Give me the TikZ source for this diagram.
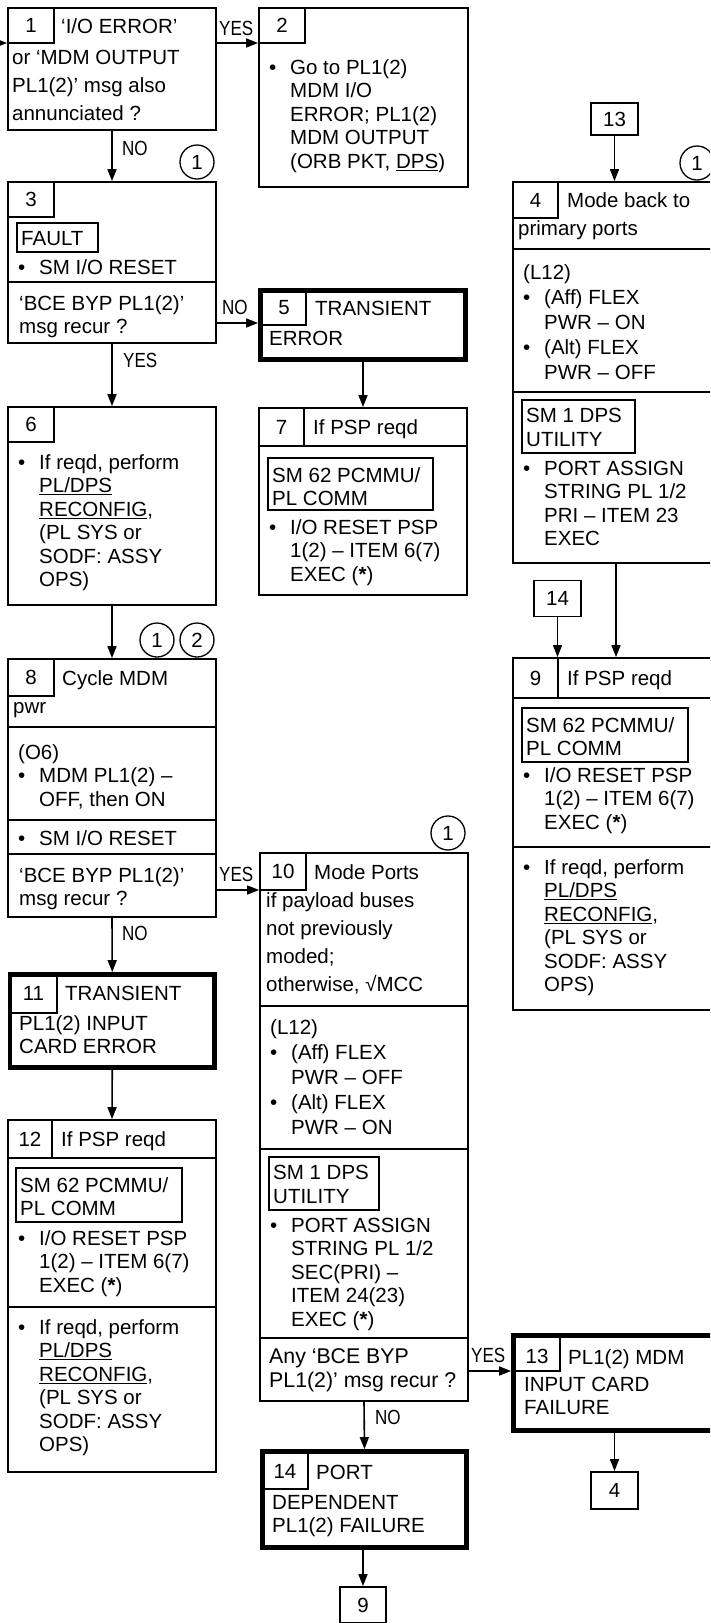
\documentclass[tikz,border=0pt]{standalone}
\usepackage{fontspec}
\setmainfont{Liberation Sans}
\usetikzlibrary{arrows.meta,fit}
\newcommand\fsz{\fontsize{20.5pt}{23.5pt}\selectfont}
\newcommand\fhd{\fontsize{20.5pt}{28pt}\selectfont}
\newcommand\flt{\fontsize{20.5pt}{25pt}\selectfont}
\newcommand\stx{\rule{0pt}{16pt}}
\newcommand\bulx{\makebox[21pt][l]{•}}
\newcommand\indx{\hspace*{21pt}}
\newcommand\cnd[1]{\scalebox{0.83}[1]{#1}}
\begin{document}
\begin{tikzpicture}[x=1pt,y=-1pt,
 bx/.style={draw, line width=1.8pt, inner sep=0pt},
 tk/.style={draw, line width=4.8pt, inner sep=0pt},
 fr/.style={draw, line width=1.6pt, inner sep=0pt},
 ln/.style={line width=1.8pt},
 arr/.style={line width=1.6pt, -{Triangle[length=12pt,width=9pt]}},
 tx/.style={font=\fsz, inner sep=0pt, anchor=north west, align=left},
 hd/.style={font=\fhd, inner sep=0pt, anchor=north west, align=left},
 tl/.style={font=\flt, inner sep=0pt, anchor=north west, align=left},
 num/.style={font=\fsz, inner sep=0pt, anchor=center},
 lab/.style={font=\fsz, inner sep=0pt, anchor=base west},
 circ/.style={draw, circle, line width=1.3pt, minimum size=34pt, inner sep=0pt, font=\fsz},
 rf/.style={draw, line width=1.8pt, inner sep=0pt, minimum width=47pt, font=\fsz}
]
\fill[white] (0,0) rectangle (710,1623);
\useasboundingbox (0,0) rectangle (710,1623);
\clip (0,0) rectangle (710,1623);

% ---------- Box 1
\node[bx, fit={(8,8) (216,130)}] (b1) {};
\draw[ln] (54,8) -- (54,43) -- (8,43);
\node[num] (n1) at (31,25.5) {1};
\node[lab] (t1a) at (61,33) {‘I/O ERROR’};
\node[hd] (t1b) at (12,48) {\stx or ‘MDM OUTPUT\\PL1(2)’ msg also\\annunciated ?};
\coordinate (in1) at (-20,43);

% ---------- Box 2
\node[bx, fit={(259,8) (468,187)}] (b2) {};
\draw[ln] (305,8) -- (305,43) -- (259,43);
\node[num] (n2) at (282,25.5) {2};
\node[tx] (t2) at (269,58) {\stx\bulx Go to PL1(2)\\\indx MDM I/O\\\indx ERROR; PL1(2)\\\indx MDM OUTPUT\\\indx (ORB PKT, \underline{DPS})};
\coordinate (y12) at (0,43);
\node[lab] (l12) at (219,35) {\cnd{YES}};

\node[circ] (c3) at (197,162) {1};
\node[lab] (l13) at (122,155) {\cnd{NO}};

% ---------- Box 3
\node[bx, fit={(8,182) (216,343)}] (b3) {};
\draw[ln] (54,182) -- (54,217) -- (8,217);
\node[num] (n3) at (31,199.5) {3};
\node[fr, fit={(17,223) (98,252)}] (f3) {};
\node[lab] (t3a) at (21,245) {FAULT};
\node[tx] (t3b) at (18,258) {\stx\bulx SM I/O RESET};
\draw[ln] (8,282) -- (216,282);
\node[tx] (t3c) at (19,294) {\stx ‘BCE BYP PL1(2)’\\msg recur ?};

% ---------- Box 5
\node[tk, fit={(260.5,290.5) (465.5,359.5)}] (b5) {};
\draw[ln] (306,290.5) -- (306,325) -- (260.5,325);
\node[num] (n5) at (284,308) {5};
\node[lab] (t5a) at (315,315) {TRANSIENT};
\node[lab] (t5b) at (269,345) {ERROR};
\coordinate (y35) at (0,323);
\node[lab] (l35) at (222,314) {\cnd{NO}};

% ---------- Box 6
\node[lab] (l36) at (123,367) {\cnd{YES}};
\node[bx, fit={(8,407) (216,605)}] (b6) {};
\draw[ln] (54,407) -- (54,442) -- (8,442);
\node[num] (n6) at (31,424.5) {6};
\node[tx] (t6) at (18,453) {\stx\bulx If reqd, perform\\\indx\underline{PL/DPS}\\\indx\underline{RECONFIG},\\\indx (PL SYS or\\\indx SODF: ASSY\\\indx OPS)};

% ---------- Box 7
\node[bx, fit={(259,408) (467,595)}] (b7) {};
\draw[ln] (304,408) -- (304,446);
\draw[ln] (259,446) -- (467,446);
\node[num] (n7) at (281.5,427) {7};
\node[lab] (t7a) at (313,434) {If PSP reqd};
\node[fr, fit={(268,458) (433,510)}] (f7) {};
\node[tx] (t7b) at (272,466) {\stx SM 62 PCMMU/\\PL COMM};
\node[tx] (t7c) at (269,518) {\stx\bulx I/O RESET PSP\\\indx 1(2) – ITEM 6(7)\\\indx EXEC (\textbf{*})};

% ---------- Box 8
\node[circ] (c8a) at (157,640) {1};
\node[circ] (c8b) at (197,640) {2};
\node[bx, fit={(8,659) (216,917)}] (b8) {};
\draw[ln] (54,659) -- (54,696) -- (8,696);
\node[num] (n8) at (31,677.5) {8};
\node[lab] (t8a) at (62,685) {Cycle MDM};
\node[lab] (t8b) at (13,713) {pwr};
\draw[ln] (8,727) -- (216,727);
\node[tx] (t8c) at (18,743) {\stx(O6)\\\bulx MDM PL1(2) –\\\indx OFF, then ON};
\draw[ln] (8,820) -- (216,820);
\node[tx] (t8d) at (18,829) {\stx\bulx SM I/O RESET};
\draw[ln] (8,854) -- (216,854);
\node[tx] (t8e) at (19,866) {\stx ‘BCE BYP PL1(2)’\\msg recur ?};

% ---------- Box 10
\node[circ] (c10) at (448,833) {1};
\node[bx, fit={(260,853) (468,1401)}] (b10) {};
\draw[ln] (306,853) -- (306,890) -- (260,890);
\node[num] (n10) at (283,871.5) {10};
\node[lab] (t10a) at (314,879) {Mode Ports};
\node[hd] (t10b) at (266,891) {\stx if payload buses\\not previously\\moded;\\otherwise, √MCC};
\draw[ln] (260,1006) -- (468,1006);
\node[tl] (t10c) at (270,1018) {\stx(L12)\\\bulx(Aff) FLEX\\\indx PWR – OFF\\\bulx(Alt) FLEX\\\indx PWR – ON};
\draw[ln] (260,1149) -- (468,1149);
\node[fr, fit={(269,1157) (379,1210)}] (f10) {};
\node[tx] (t10d) at (273,1163.5) {\stx SM 1 DPS\\UTILITY};
\node[tx] (t10e) at (270,1216) {\stx\bulx PORT ASSIGN\\\indx STRING PL 1/2\\\indx SEC(PRI) –\\\indx ITEM 24(23)\\\indx EXEC (\textbf{*})};
\draw[ln] (260,1338) -- (468,1338);
\node[tx, font=\fontsize{21.3pt}{24.5pt}\selectfont] (t10f) at (269,1347) {\stx Any ‘BCE BYP\\PL1(2)’ msg recur ?};
\coordinate (y810) at (0,890);
\node[lab] (l810) at (219,881) {\cnd{YES}};

% ---------- Box 11
\node[lab] (l811) at (122,940) {\cnd{NO}};
\node[tk, fit={(10,974.5) (214.5,1067.5)}] (b11) {};
\draw[ln] (57,974.5) -- (57,1013) -- (10,1013);
\node[num] (n11) at (33.5,993.5) {11};
\node[lab] (t11a) at (65,1000) {TRANSIENT};
\node[tx] (t11b) at (19,1014) {\stx PL1(2) INPUT\\CARD ERROR};

% ---------- Box 12
\node[bx, fit={(8,1120) (216,1472)}] (b12) {};
\draw[ln] (52,1120) -- (52,1158);
\draw[ln] (8,1158) -- (216,1158);
\node[num] (n12) at (30,1139) {12};
\node[lab] (t12a) at (61,1146) {If PSP reqd};
\node[fr, fit={(16,1168) (182,1222)}] (f12) {};
\node[tx] (t12b) at (20,1176) {\stx SM 62 PCMMU/\\PL COMM};
\node[tx] (t12c) at (18,1229) {\stx\bulx I/O RESET PSP\\\indx 1(2) – ITEM 6(7)\\\indx EXEC (\textbf{*})};
\draw[ln] (8,1307) -- (216,1307);
\node[tx] (t12d) at (18,1318) {\stx\bulx If reqd, perform\\\indx\underline{PL/DPS}\\\indx\underline{RECONFIG},\\\indx (PL SYS or\\\indx SODF: ASSY\\\indx OPS)};

% ---------- Box 13
\node[tk, fit={(513.5,1335.5) (728,1430.5)}] (b13) {};
\draw[ln] (560,1335.5) -- (560,1371) -- (513.5,1371);
\node[num] (n13) at (537,1356) {13};
\node[lab] (t13a) at (568,1364) {PL1(2) MDM};
\node[tx] (t13b) at (524,1375) {\stx INPUT CARD\\FAILURE};
\coordinate (y1013) at (0,1371);
\node[lab] (l1013) at (471,1362) {\cnd{YES}};
\node[rf, minimum height=37pt] (r4) at (614.5,1490.5) {4};

% ---------- Box 14
\node[lab] (l1014) at (375,1424) {\cnd{NO}};
\node[tk, fit={(262.5,1451.5) (466.5,1547.5)}] (b14) {};
\draw[ln] (308,1451.5) -- (308,1489) -- (262.5,1489);
\node[num] (n14) at (285,1471) {14};
\node[lab] (t14a) at (316,1479) {PORT};
\node[tx] (t14b) at (272,1493) {\stx DEPENDENT\\PL1(2) FAILURE};
\node[rf, minimum width=46pt, minimum height=36pt] (r9) at (363,1605) {9};

% ---------- Right column: Box 4
\node[rf, minimum height=32pt] (r13) at (614.5,119) {13};
\node[circ] (c4) at (697,163) {1};
\node[bx, fit={(513,182) (723,563)}] (b4) {};
\draw[ln] (558,182) -- (558,218) -- (513,218);
\node[num] (n4) at (535.5,200) {4};
\node[lab] (t4a) at (567,207) {Mode back to};
\node[lab] (t4b) at (518,235) {primary ports};
\draw[ln] (513,249) -- (723,249);
\node[tl] (t4c) at (523,263) {\stx(L12)\\\bulx(Aff) FLEX\\\indx PWR – ON\\\bulx(Alt) FLEX\\\indx PWR – OFF};
\draw[ln] (513,392) -- (723,392);
\node[fr, fit={(522,400) (635,453)}] (f4) {};
\node[tx] (t4d) at (526,406.5) {\stx SM 1 DPS\\UTILITY};
\node[tx] (t4e) at (523,459) {\stx\bulx PORT ASSIGN\\\indx STRING PL 1/2\\\indx PRI – ITEM 23\\\indx EXEC};

% ---------- Box 9
\node[rf, minimum height=36pt] (r14) at (557.5,598.5) {14};
\node[bx, fit={(513,658) (723,1010)}] (b9) {};
\coordinate (x616) at (616,0);
\draw[ln] (558,658) -- (558,698);
\draw[ln] (513,698) -- (723,698);
\node[num] (n9) at (535.5,678) {9};
\node[lab] (t9a) at (567,685) {If PSP reqd};
\node[fr, fit={(522,708) (688,762)}] (f9) {};
\node[tx] (t9b) at (526,716) {\stx SM 62 PCMMU/\\PL COMM};
\node[tx] (t9c) at (523,766) {\stx\bulx I/O RESET PSP\\\indx 1(2) – ITEM 6(7)\\\indx EXEC (\textbf{*})};
\draw[ln] (513,847) -- (723,847);
\node[tx] (t9d) at (523,858) {\stx\bulx If reqd, perform\\\indx\underline{PL/DPS}\\\indx\underline{RECONFIG},\\\indx (PL SYS or\\\indx SODF: ASSY\\\indx OPS)};

% ---------- Connectors
\draw[arr] (in1) -- (b1.west |- in1);
\draw[arr] (b1.east |- y12) -- (b2.west |- y12);
\draw[arr] (b1.south) -- (b3.north);
\draw[arr] (b3.east |- y35) -- (b5.west |- y35);
\draw[arr] (b3.south) -- (b6.north);
\draw[arr] (b5.south) -- (b7.north);
\draw[arr] (b6.south) -- (b8.north);
\draw[arr] (b8.east |- y810) -- (b10.west |- y810);
\draw[arr] (b8.south) -- (b11.north);
\draw[arr] (b11.south) -- (b12.north);
\draw[arr] (b10.east |- y1013) -- (b13.west |- y1013);
\draw[arr] (b13.south -| r4) -- (r4.north);
\draw[arr] (b10.south) -- (b14.north);
\draw[arr] (b14.south -| r9) -- (r9.north);
\draw[arr] (r13.south) -- (r13.south |- b4.north);
\draw[arr] (r14.south) -- (r14.south |- b9.north);
\draw[arr] (b4.south -| x616) -- (b9.north -| x616);
\end{tikzpicture}
\end{document}
